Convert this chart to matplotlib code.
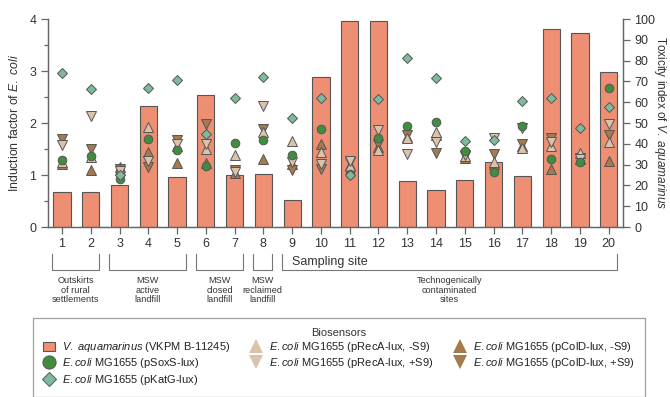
import numpy as np
import matplotlib
matplotlib.use('Agg')
import matplotlib.pyplot as plt
from matplotlib.lines import Line2D
from matplotlib.patches import Patch
from matplotlib.transforms import blended_transform_factory

plt.rcParams['font.family'] = ['Liberation Sans', 'DejaVu Sans']
plt.rcParams['mathtext.fontset'] = 'custom'
plt.rcParams['mathtext.it'] = 'Liberation Sans:italic'
plt.rcParams['mathtext.rm'] = 'Liberation Sans'

# Sites d'échantillonnage
sites = list(range(1, 21))

# Indice de toxicité (V. aquamarinus), axe droit
toxicite = [17, 17, 20, 58, 24, 63.5, 25, 25.5, 13.2, 72,
            99, 99, 22, 18, 22.5, 31.5, 24.5, 95, 93.5, 74.5]

# Facteurs d'induction (E. coli), axe gauche
katg = [2.97, 2.65, 1.00, 2.68, 2.83, 1.79, 2.48, 2.89, 2.09, 2.49,
        1.00, 2.47, 3.26, 2.86, 1.66, 1.67, 2.42, 2.49, 1.90, 2.31]
soxs = [1.29, 1.37, 0.93, 1.69, 1.48, 1.18, 1.62, 1.67, 1.39, 1.89,
        1.02, 1.72, 1.94, 2.02, 1.46, 1.05, 1.95, 1.30, 1.25, 2.68]
reca_moins = [1.25, 1.35, 1.10, 1.92, 1.55, 1.50, 1.38, 1.83, 1.66, 1.44,
              1.18, 1.49, 1.72, 1.83, 1.36, 1.26, 1.53, 1.55, 1.42, 1.64]
reca_plus = [1.57, 2.13, 1.08, 1.28, 1.60, 1.60, 1.05, 2.32, 1.26, 1.21,
             1.27, 1.87, 1.40, 1.64, 1.38, 1.72, 1.90, 1.64, 1.30, 1.99]
cold_moins = [1.21, 1.10, 1.15, 1.45, 1.23, 1.24, 1.04, 1.30, 1.22, 1.60,
              1.20, 1.54, 1.74, 1.77, 1.33, 1.21, 1.55, 1.11, 1.30, 1.27]
cold_plus = [1.70, 1.50, 1.12, 1.15, 1.67, 1.98, 1.09, 1.89, 1.10, 1.12,
             1.26, 1.60, 1.77, 1.43, 1.37, 1.41, 1.59, 1.72, 1.33, 1.77]

# Groupes de sites (premier, dernier, libellé)
groupes = [
    (1, 2, 'Outskirts\nof rural\nsettlements'),
    (3, 5, 'MSW\nactive\nlandfill'),
    (6, 7, 'MSW\nclosed\nlandfill'),
    (8, 8, 'MSW\nreclaimed\nlandfill'),
    (9, 20, 'Technogenically\ncontaminated\nsites'),
]

C_BARRE = '#EE8F74'
C_SOXS = '#3F8E3E'
C_KATG = '#7DBB9B'
C_RECA = '#D9C3AA'
C_COLD = '#A57A4C'
C_BORD = '#555555'
C_AXE = '#666666'

fig = plt.figure(figsize=(6.7, 3.97), dpi=100)
ax = fig.add_axes([0.071, 0.428, 0.859, 0.524])
ax2 = ax.twinx()
ax.set_zorder(ax2.get_zorder() + 1)
ax.patch.set_visible(False)

ax2.bar(sites, toxicite, width=0.6, color=C_BARRE, edgecolor=C_BORD, linewidth=0.8)
ax2.set_ylim(0, 100)
ax2.set_yticks(range(0, 101, 10))

ms = 6.5
kw = dict(linestyle='none', markeredgecolor=C_BORD, markeredgewidth=0.7)
ax.plot(sites, cold_moins, marker='^', color=C_COLD, markersize=ms, **kw)
ax.plot(sites, cold_plus, marker='v', color=C_COLD, markersize=ms, **kw)
ax.plot(sites, reca_moins, marker='^', color=C_RECA, markersize=ms, **kw)
ax.plot(sites, reca_plus, marker='v', color=C_RECA, markersize=ms, **kw)
ax.plot(sites, soxs, marker='o', color=C_SOXS, markersize=6.2, **kw)
ax.plot(sites, katg, marker='D', color=C_KATG, markersize=5.3, **kw)

ax.set_xlim(0.5, 20.5)
ax.set_ylim(0, 4)
ax.set_xticks(sites)
ax.set_yticks([0, 1, 2, 3, 4])
ax.set_yticks(np.arange(0, 4.01, 0.5), minor=True)

for a in (ax, ax2):
    for s in a.spines.values():
        s.set_color(C_AXE)
        s.set_linewidth(0.9)
    a.spines['top'].set_visible(False)
    a.tick_params(colors=C_AXE, labelcolor='#333333', labelsize=9,
                  length=5, width=0.9, pad=3)
ax.tick_params(axis='y', which='minor', length=3, width=0.9, colors=C_AXE)

ax.set_ylabel('Induction factor of $\\it{E.}$ $\\it{coli}$', fontsize=8.8, color='#333333', labelpad=6)
ax2.set_ylabel('Toxicity index of $\\it{V.}$ $\\it{aquamarinus}$', fontsize=8.5, color='#333333',
               rotation=-90, labelpad=9)

# Accolades des groupes sous l'axe
tr = blended_transform_factory(ax.transData, fig.transFigure)
y_haut = 1 - 254 / 397
y_bas = 1 - 270 / 397
for debut, fin, nom in groupes:
    x0, x1 = debut - 0.35, fin + 0.3
    ax.plot([x0, x0, x1, x1], [y_haut, y_bas, y_bas, y_haut], transform=tr,
            color='#777777', linewidth=0.8, clip_on=False)
    ax.text((x0 + x1) / 2, 1 - 276 / 397, nom, transform=tr, ha='center', va='top',
            fontsize=6.6, color='#333333', linespacing=1.1)
ax.text(9.0, 1 - 262 / 397, 'Sampling site', transform=tr, ha='left', va='center',
        fontsize=9, color='#333333')

# Légende
hkw = dict(linestyle='none', markeredgecolor=C_BORD, markeredgewidth=0.7)
tri = dict(markersize=10, markeredgewidth=0, linestyle='none')
poignees = [
    Patch(facecolor=C_BARRE, edgecolor=C_BORD, linewidth=0.8),
    Line2D([], [], marker='o', color=C_SOXS, markersize=9.5, **hkw),
    Line2D([], [], marker='D', color=C_KATG, markersize=7, **hkw),
    Line2D([], [], marker='^', color=C_RECA, **tri),
    Line2D([], [], marker='v', color=C_RECA, **tri),
    Line2D([], [], marker='^', color=C_COLD, **tri),
    Line2D([], [], marker='v', color=C_COLD, **tri),
]
libelles = [
    '$\\it{V.}$ $\\it{aquamarinus}$ (VKPM B-11245)',
    '$\\it{E.coli}$ MG1655 (pSoxS-lux)',
    '$\\it{E.coli}$ MG1655 (pKatG-lux)',
    '$\\it{E.coli}$ MG1655 (pRecA-lux, -S9)',
    '$\\it{E.coli}$ MG1655 (pRecA-lux, +S9)',
    '$\\it{E.coli}$ MG1655 (pColD-lux, -S9)',
    '$\\it{E.coli}$ MG1655 (pColD-lux, +S9)',
]
haut_leg = 1 - 318 / 397
leg = fig.legend(poignees, libelles, ncol=3, loc='upper left', mode='expand',
                 bbox_to_anchor=(0.049, haut_leg - 0.3, 0.913, 0.3), title='Biosensors',
                 fontsize=8, title_fontsize=8, frameon=True, fancybox=False,
                 edgecolor='#888888', handlelength=1.1, handleheight=0.8,
                 handletextpad=0.6, columnspacing=0.5, labelspacing=0.2,
                 borderpad=0.9, borderaxespad=0)
leg.get_frame().set_linewidth(0.9)
leg.get_title().set_color('#333333')
for t in leg.get_texts():
    t.set_color('#222222')

fig.savefig('out.png', dpi=100)
